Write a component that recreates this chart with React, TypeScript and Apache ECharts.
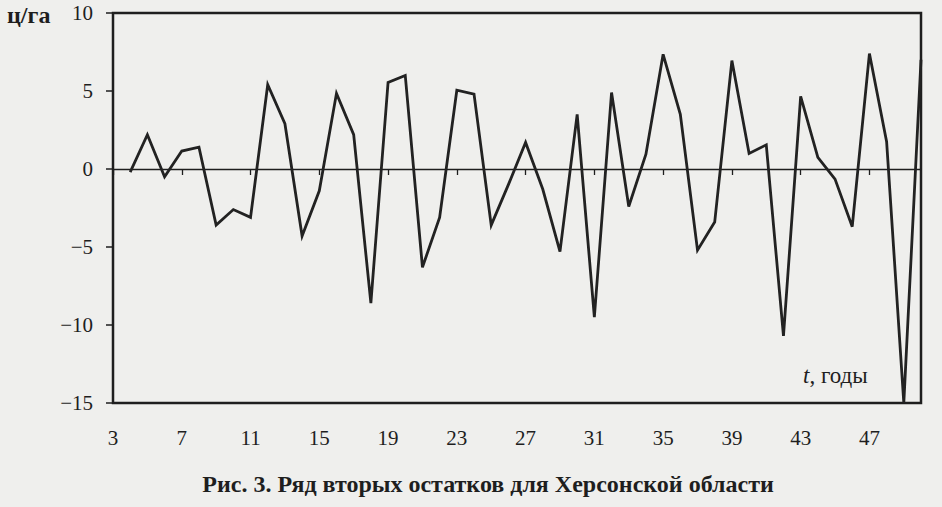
import React, { useEffect, useRef } from "react";
import * as echarts from "echarts";

const years: string[] = [];
for (let y = 3; y <= 50; y++) years.push(String(y));

// second residuals, ц/га (t = 3 has no value)
const residuals: (number | null)[] = [
  null, -0.2, 2.2, -0.5, 1.15, 1.4, -3.6, -2.6, -3.1, 5.4,
  2.9, -4.3, -1.4, 4.85, 2.2, -8.6, 5.55, 6.0, -6.3, -3.1,
  5.05, 4.8, -3.6, -1.0, 1.7, -1.3, -5.3, 3.5, -9.5, 4.9,
  -2.4, 0.95, 7.35, 3.5, -5.2, -3.4, 6.95, 1.0, 1.55, -10.7,
  4.65, 0.75, -0.65, -3.7, 7.4, 1.75, -15, 7.0,
];

const yTicks = { min: -15, max: 10, interval: 5 };
const titleText = "Рис. 3. Ряд вторых остатков для Херсонской области";
const yUnit = "ц/га";
const xUnit = "годы";

const FONT = "Liberation Serif";
const INK = "#1e1e1e";

export default function App() {
  const ref = useRef<HTMLDivElement>(null);
  useEffect(() => {
    if (!ref.current) return;
    const chart = echarts.init(ref.current, undefined, { renderer: "svg" });
    const tickEvery4 = (_i: number, v: string) => (Number(v) - 3) % 4 === 0;
    chart.setOption({
      animation: false,
      backgroundColor: "#efefed",
      grid: {
        left: 113,
        right: 21,
        top: 13,
        bottom: 104,
        show: true,
        borderColor: INK,
        borderWidth: 2.5,
        backgroundColor: "transparent",
      },
      title: {
        text: titleText,
        left: 483,
        textAlign: "center",
        top: 467,
        textStyle: { fontFamily: FONT, fontSize: 24, fontWeight: "bold", color: INK },
      },
      xAxis: [
        {
          type: "category",
          data: years,
          boundaryGap: false,
          position: "bottom",
          axisLine: { show: true, onZero: true, onZeroAxisIndex: 0, lineStyle: { color: INK, width: 1.3 } },
          axisTick: { show: true, interval: tickEvery4, length: 6, lineStyle: { color: INK, width: 1.3 } },
          axisLabel: { show: false },
          splitLine: { show: false },
        },
        {
          type: "category",
          data: years,
          boundaryGap: false,
          position: "bottom",
          axisLine: { show: false, onZero: false },
          axisTick: { show: false },
          splitLine: { show: false },
          axisLabel: {
            interval: tickEvery4,
            margin: 24,
            fontFamily: FONT,
            fontSize: 21,
            color: INK,
          },
        },
      ],
      yAxis: {
        type: "value",
        min: yTicks.min,
        max: yTicks.max,
        interval: yTicks.interval,
        axisLine: { show: false },
        axisTick: { show: true, length: 7, lineStyle: { color: INK, width: 1.5 } },
        splitLine: { show: false },
        axisLabel: {
          margin: 20,
          fontFamily: FONT,
          fontSize: 21,
          color: INK,
          formatter: (v: number) => (v < 0 ? "\u2212" + Math.abs(v) : String(v)),
        },
      },
      graphic: [
        {
          type: "text",
          left: 7,
          top: 3,
          style: { text: yUnit, fontFamily: FONT, fontSize: 24, fontWeight: "bold", fill: INK },
        },
        {
          type: "text",
          left: 803,
          top: 364,
          style: {
            text: "{i|t}, " + xUnit,
            fontFamily: FONT,
            fontSize: 23,
            fill: INK,
            rich: { i: { fontStyle: "italic", fontFamily: FONT, fontSize: 23, fill: INK } },
          },
        },
      ],
      series: [
        {
          type: "line",
          xAxisIndex: 0,
          data: residuals,
          symbol: "none",
          connectNulls: false,
          lineStyle: { color: "#222222", width: 2.8, join: "miter" },
        },
      ],
    });
    return () => chart.dispose();
  }, []);
  return (
    <div
      ref={ref}
      style={{ position: "fixed", left: 0, top: 0, width: 942, height: 507 }}
    />
  );
}
